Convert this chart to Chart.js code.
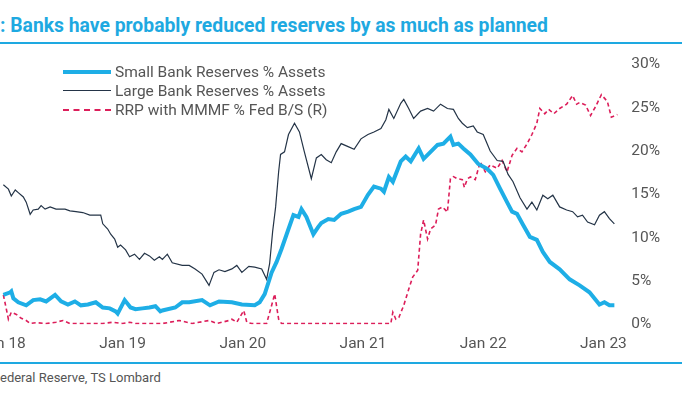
<!DOCTYPE html>
<html>
<head>
<meta charset="utf-8">
<script src="https://cdn.jsdelivr.net/npm/chart.js@4.4.1/dist/chart.umd.min.js"></script>
<style>
  html, body { margin: 0; padding: 0; background: #fff; }
  body { width: 700px; height: 394px; overflow: hidden; position: relative; font-family: Roboto, "Noto Sans", sans-serif; }
  #title { position: absolute; left: 0; top: 13px; font-size: 20px; font-weight: 700; color: #1ea9e1; white-space: nowrap; transform: scaleX(0.966); transform-origin: left center; }
  .rule { position: absolute; left: 0; width: 682px; height: 2px; background: #1ea9e1; }
  #source { position: absolute; left: 0; top: 370px; font-size: 13px; color: #555; white-space: nowrap; }
  #wrap { position: absolute; left: -31px; top: 48px; width: 698px; height: 315px; }
  #legend { position: absolute; left: 63px; top: 62px; font-size: 15.5px; color: #555; }
  .row { height: 19px; display: flex; align-items: center; white-space: nowrap; }
  .swatch { width: 48px; margin-right: 4px; }
</style>
</head>
<body>
<div id="title">: Banks have probably reduced reserves by as much as planned</div>
<div class="rule" style="top:42px"></div>
<div id="wrap"><canvas id="chart"></canvas></div>
<div id="legend"></div>
<div class="rule" style="top:362px"></div>
<div id="source">ederal Reserve, TS Lombard</div>
<script>
// x values are decimal years, y values are % (left hidden axis for banks, right axis for RRP)
const tickYears = [2018, 2019, 2020, 2021, 2022, 2023];
const tickLabels = ['Jan 18', 'Jan 19', 'Jan 20', 'Jan 21', 'Jan 22', 'Jan 23'];

const smallDates = [2018.008, 2018.066, 2018.074, 2018.091, 2018.132, 2018.198, 2018.256, 2018.314, 2018.364, 2018.438,
  2018.488, 2018.545, 2018.603, 2018.653, 2018.711, 2018.777, 2018.835, 2018.893, 2018.942, 2018.959,
  2019.017, 2019.066, 2019.107, 2019.165, 2019.223, 2019.273, 2019.314, 2019.331, 2019.438, 2019.496,
  2019.554, 2019.661, 2019.727, 2019.802, 2019.909, 2019.992, 2020.099, 2020.140, 2020.182, 2020.240,
  2020.281, 2020.322, 2020.380, 2020.421, 2020.463, 2020.488, 2020.529, 2020.587, 2020.628, 2020.653,
  2020.711, 2020.760, 2020.818, 2020.876, 2020.926, 2020.983, 2021.041, 2021.091, 2021.149, 2021.174,
  2021.215, 2021.248, 2021.314, 2021.355, 2021.397, 2021.463, 2021.504, 2021.562, 2021.620, 2021.669,
  2021.727, 2021.752, 2021.793, 2021.835, 2021.893, 2021.959, 2022.033, 2022.083, 2022.140, 2022.198,
  2022.240, 2022.281, 2022.331, 2022.388, 2022.446, 2022.496, 2022.554, 2022.636, 2022.719, 2022.802,
  2022.884, 2022.967, 2023.008, 2023.050, 2023.091];
const smallVals = [3.4, 3.7, 3.8, 3.0, 2.55, 2.2, 2.8, 2.9, 2.65, 3.4,
  2.65, 2.3, 2.65, 2.2, 2.3, 2.55, 1.95, 1.85, 1.5, 1.25,
  2.8, 1.95, 1.75, 1.85, 1.95, 2.1, 1.5, 1.6, 1.95, 2.55,
  2.55, 2.8, 2.2, 2.65, 2.55, 2.3, 2.2, 2.55, 3.5, 6.0,
  7.2, 8.7, 11.0, 12.6, 12.4, 13.3, 12.4, 10.4, 11.25, 11.7,
  12.15, 12.05, 12.75, 13.0, 13.3, 13.55, 14.95, 15.9, 15.65, 15.3,
  17.0, 16.45, 18.8, 19.35, 18.8, 20.3, 19.1, 19.9, 20.7, 20.85,
  21.65, 20.7, 20.85, 20.3, 19.6, 18.5, 17.95, 17.25, 15.65, 14.1,
  13.0, 12.75, 11.5, 10.1, 9.75, 8.35, 7.2, 6.35, 5.2, 4.5,
  3.7, 2.3, 2.55, 2.2, 2.2];

const largeDates = [2018.008, 2018.050, 2018.074, 2018.107, 2018.132, 2018.174, 2018.198, 2018.231, 2018.256, 2018.298,
  2018.322, 2018.355, 2018.397, 2018.446, 2018.521, 2018.562, 2018.612, 2018.669, 2018.727, 2018.777,
  2018.818, 2018.835, 2018.876, 2018.901, 2018.934, 2018.959, 2018.983, 2019.025, 2019.058, 2019.099,
  2019.140, 2019.182, 2019.223, 2019.264, 2019.306, 2019.331, 2019.372, 2019.413, 2019.496, 2019.554,
  2019.603, 2019.661, 2019.719, 2019.760, 2019.802, 2019.851, 2019.909, 2019.950, 2019.992, 2020.050,
  2020.099, 2020.157, 2020.198, 2020.223, 2020.248, 2020.273, 2020.298, 2020.314, 2020.347, 2020.380,
  2020.430, 2020.471, 2020.512, 2020.570, 2020.612, 2020.653, 2020.694, 2020.736, 2020.777, 2020.818,
  2020.876, 2020.926, 2020.983, 2021.041, 2021.091, 2021.149, 2021.190, 2021.215, 2021.256, 2021.314,
  2021.339, 2021.380, 2021.421, 2021.479, 2021.537, 2021.587, 2021.645, 2021.702, 2021.752, 2021.793,
  2021.826, 2021.868, 2021.917, 2021.950, 2022.000, 2022.058, 2022.116, 2022.165, 2022.207, 2022.248,
  2022.306, 2022.364, 2022.405, 2022.446, 2022.496, 2022.537, 2022.579, 2022.636, 2022.694, 2022.744,
  2022.785, 2022.826, 2022.868, 2022.926, 2022.967, 2023.008, 2023.050, 2023.091];
const largeVals = [16.1, 15.6, 14.8, 15.5, 15.2, 14.7, 14.1, 12.7, 13.2, 13.3,
  13.7, 13.3, 13.55, 13.3, 13.3, 13.1, 13.0, 12.9, 12.6, 12.6,
  12.6, 11.6, 11.0, 10.4, 9.85, 8.9, 9.15, 8.6, 7.8, 8.1,
  7.5, 8.2, 7.9, 7.4, 7.8, 7.5, 8.1, 7.1, 6.8, 6.8,
  6.4, 5.8, 4.5, 6.0, 6.3, 6.1, 6.4, 6.8, 6.0, 6.7,
  6.6, 6.4, 5.2, 7.0, 10.7, 13.55, 17.6, 19.6, 19.9, 21.9,
  23.2, 22.2, 19.9, 16.8, 19.2, 19.6, 19.0, 18.65, 19.9, 20.85,
  20.5, 20.2, 21.4, 21.9, 22.2, 22.6, 23.6, 24.8, 23.75, 25.5,
  25.95, 24.9, 23.75, 24.6, 24.9, 24.6, 25.4, 24.9, 24.8, 23.75,
  23.2, 22.7, 22.9, 22.2, 21.9, 20.0, 18.9, 18.8, 17.3, 16.45,
  14.6, 13.3, 14.1, 13.2, 14.9, 14.5, 14.9, 13.55, 13.2, 13.0,
  12.4, 12.6, 11.8, 11.5, 12.6, 13.0, 12.2, 11.6];

const rrpDates = [2018.008, 2018.033, 2018.050, 2018.074, 2018.116, 2018.157, 2018.198, 2018.231, 2018.281, 2018.364,
  2018.446, 2018.504, 2018.562, 2018.835, 2018.917, 2019.000, 2019.058, 2019.107, 2019.331, 2019.471,
  2019.579, 2019.719, 2019.785, 2019.884, 2019.909, 2019.950, 2020.008, 2020.033, 2020.074, 2020.198,
  2020.240, 2020.265, 2020.298, 2020.322, 2021.231, 2021.248, 2021.273, 2021.298, 2021.339, 2021.380,
  2021.413, 2021.455, 2021.479, 2021.504, 2021.537, 2021.562, 2021.603, 2021.628, 2021.661, 2021.702,
  2021.727, 2021.752, 2021.785, 2021.826, 2021.843, 2021.868, 2021.893, 2021.934, 2021.975, 2022.017,
  2022.058, 2022.116, 2022.157, 2022.198, 2022.240, 2022.281, 2022.322, 2022.364, 2022.405, 2022.446,
  2022.471, 2022.512, 2022.545, 2022.587, 2022.636, 2022.694, 2022.744, 2022.777, 2022.802, 2022.851,
  2022.893, 2022.934, 2022.983, 2023.033, 2023.066, 2023.116];
const rrpVals = [3.4, 1.75, 0.6, 1.4, 1.15, 0.7, 0.45, 0.1, 0.2, 0.1,
  0.25, 0.45, 0.1, 0.1, 0.25, 0.1, 0.25, 0.1, 0.1, 0.45,
  0.1, 0.45, 0.1, 0.45, 0.6, 0.25, 1.6, 0.25, 0.1, 0.1,
  2.2, 3.5, 0.6, 0.1, 0.1, 1.4, 0.6, 0.8, 2.2, 4.05,
  5.45, 6.25, 10.4, 12.05, 9.85, 11.0, 11.45, 13.3, 13.55, 12.95,
  16.8, 17.05, 16.8, 16.7, 15.8, 16.8, 17.0, 16.7, 18.75, 17.6,
  18.4, 18.0, 18.9, 17.6, 19.5, 20.3, 19.9, 20.8, 21.9, 23.2,
  24.9, 24.3, 24.8, 24.3, 24.9, 25.4, 26.4, 25.4, 25.6, 25.3,
  24.1, 25.1, 26.5, 25.7, 23.9, 24.2];

const toPoints = (xs, ys) => xs.map((x, i) => ({ x: x, y: ys[i] }));

const blue = '#1eaee6';
const navy = '#243447';
const red = '#dc1e5a';
const tickFont = { family: 'Roboto', size: 15.5 };

const datasets = [
  { label: 'Small Bank Reserves % Assets', data: toPoints(smallDates, smallVals), yAxisID: 'y',
    borderColor: blue, borderWidth: 4, pointRadius: 0 },
  { label: 'Large Bank Reserves % Assets', data: toPoints(largeDates, largeVals), yAxisID: 'y',
    borderColor: navy, borderWidth: 1.2, pointRadius: 0 },
  { label: 'RRP with MMMF % Fed B/S (R)', data: toPoints(rrpDates, rrpVals), yAxisID: 'y1',
    borderColor: red, borderWidth: 1.6, borderDash: [4, 3], pointRadius: 0 }
];

new Chart(document.getElementById('chart'), {
  type: 'line',
  data: { datasets: datasets },
  options: {
    responsive: true,
    maintainAspectRatio: false,
    animation: false,
    layout: { padding: 0 },
    plugins: { legend: { display: false }, tooltip: { enabled: false } },
    scales: {
      x: {
        type: 'linear', min: 2017.75, max: 2023.173,
        grid: { display: false, drawTicks: false }, border: { display: false },
        afterBuildTicks: (scale) => { scale.ticks = tickYears.map(v => ({ value: v })); },
        ticks: { callback: (v) => tickLabels[tickYears.indexOf(v)], font: tickFont, color: '#555',
          padding: 10, maxRotation: 0, autoSkip: false }
      },
      y: { display: false, min: 0, max: 30 },
      y1: {
        position: 'right', min: 0, max: 30,
        grid: { display: false, drawTicks: false }, border: { display: false },
        ticks: { stepSize: 5, callback: (v) => v + '%', font: tickFont, color: '#555', padding: 7 }
      }
    }
  }
});

// legend drawn as html so it can sit inside the plot like the original
const legend = document.getElementById('legend');
datasets.forEach(ds => {
  const row = document.createElement('div');
  row.className = 'row';
  const sw = document.createElement('span');
  sw.className = 'swatch';
  const style = ds.borderDash ? 'dashed' : 'solid';
  const w = ds.borderDash ? 2 : Math.max(1, Math.round(ds.borderWidth));
  sw.style.borderTop = w + 'px ' + style + ' ' + ds.borderColor;
  const txt = document.createElement('span');
  txt.textContent = ds.label;
  row.appendChild(sw);
  row.appendChild(txt);
  legend.appendChild(row);
});
</script>
</body>
</html>
